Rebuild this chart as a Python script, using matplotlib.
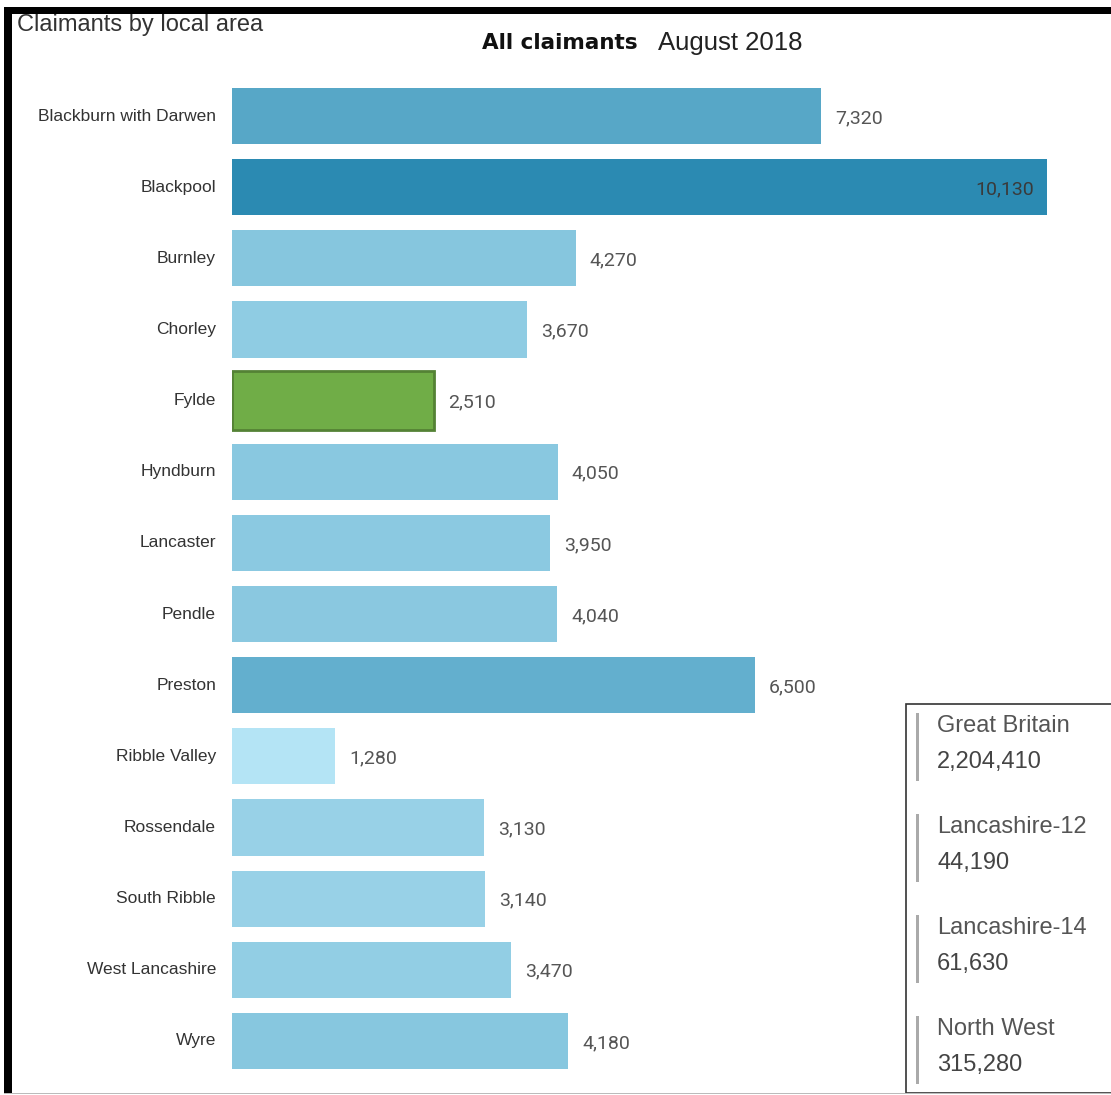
import matplotlib
matplotlib.use("Agg")
import matplotlib.pyplot as plt
from matplotlib.colors import LinearSegmentedColormap, Normalize
from matplotlib.patches import Rectangle
from matplotlib.transforms import offset_copy

W, H = 1111, 1095

areas = ["Blackburn with Darwen", "Blackpool", "Burnley", "Chorley", "Fylde",
         "Hyndburn", "Lancaster", "Pendle", "Preston", "Ribble Valley",
         "Rossendale", "South Ribble", "West Lancashire", "Wyre"]
claimants = [7320, 10130, 4270, 3670, 2510, 4050, 3950, 4040, 6500, 1280,
             3130, 3140, 3470, 4180]
highlight = "Fylde"

summary_names = ["Great Britain", "Lancashire-12", "Lancashire-14", "North West"]
summary_values = [2204410, 44190, 61630, 315280]

title_left = "Claimants by local area"
title_bold = "All claimants"
title_date = "August 2018"

fig = plt.figure(figsize=(W / 100, H / 100), dpi=100)
fig.patch.set_facecolor("white")

def fx(x):
    return x / W

def fy(y):
    return 1 - y / H

# axes: x from 232 to 1047 px, y covering 14 rows centred 116..1041
row = (1041 - 116) / 13
top = 116 - row / 2
bot = 1041 + row / 2
ax = fig.add_axes([fx(232), fy(bot), fx(1047) - fx(232), (bot - top) / H])
ax.set_xlim(0, max(claimants))
ax.set_ylim(len(areas) - 0.5, -0.5)
ax.axis("off")

cmap = LinearSegmentedColormap.from_list("blues", ["#B4E4F5", "#2B8AB2"])
norm = Normalize(vmin=min(claimants), vmax=max(claimants))

for i, (a, v) in enumerate(zip(areas, claimants)):
    if a == highlight:
        ax.barh(i, v, height=0.82, color="#70AD47", edgecolor="#548235", linewidth=2)
    else:
        ax.barh(i, v, height=0.79, color=cmap(norm(v)), edgecolor="none")
    label = f"{v:,}"
    if v == max(claimants):
        t = offset_copy(ax.transData, fig=fig, x=-13, y=-2, units="dots")
        ax.text(v, i, label, transform=t, ha="right", va="center",
                fontsize=14, family="Roboto", color="#3a3a3a")
    else:
        t = offset_copy(ax.transData, fig=fig, x=14, y=-2, units="dots")
        ax.text(v, i, label, transform=t, ha="left", va="center",
                fontsize=14, family="Roboto", color="#555555")
    t2 = offset_copy(ax.transData, fig=fig, x=-16, y=0, units="dots")
    ax.text(0, i, a, transform=t2, ha="right", va="center",
            fontsize=12.5, family="Liberation Sans", color="#333333")

# titles
fig.text(fx(17), fy(25), title_left, ha="left", va="center",
         fontsize=17, family="Liberation Sans", color="#333333")
fig.text(fx(638), fy(43), title_bold, ha="right", va="center",
         fontsize=15.5, family="DejaVu Sans", fontweight="bold", color="#111111")
fig.text(fx(658), fy(43), title_date, ha="left", va="center",
         fontsize=18.5, family="Liberation Sans", color="#222222")

# summary box
fig.add_artist(Rectangle((fx(906), fy(1093)), fx(1111) - fx(906) + 0.01, (1093 - 704) / H,
                         transform=fig.transFigure, facecolor="white",
                         edgecolor="#333333", linewidth=1.2))
for k, (n, v) in enumerate(zip(summary_names, summary_values)):
    y0 = 726 + k * 101
    fig.add_artist(Rectangle((fx(916), fy(y0 + 55)), 3 / W, 68 / H,
                             transform=fig.transFigure, facecolor="#AAAAAA",
                             edgecolor="none"))
    fig.text(fx(937), fy(y0), n, ha="left", va="center",
             fontsize=17, family="Liberation Sans", color="#555555")
    fig.text(fx(937), fy(y0 + 36), f"{v:,}", ha="left", va="center",
             fontsize=17, family="Liberation Sans", color="#444444")

# frame
fig.add_artist(Rectangle((fx(4), fy(14)), 1, 7 / H, transform=fig.transFigure,
                         facecolor="black", edgecolor="none"))
fig.add_artist(Rectangle((fx(4), fy(1093)), 8 / W, (1093 - 7) / H, transform=fig.transFigure,
                         facecolor="black", edgecolor="none"))
fig.add_artist(Rectangle((fx(4), fy(1094)), 1, 1.5 / H, transform=fig.transFigure,
                         facecolor="#BBBBBB", edgecolor="none"))

fig.savefig("out.png", dpi=100)
